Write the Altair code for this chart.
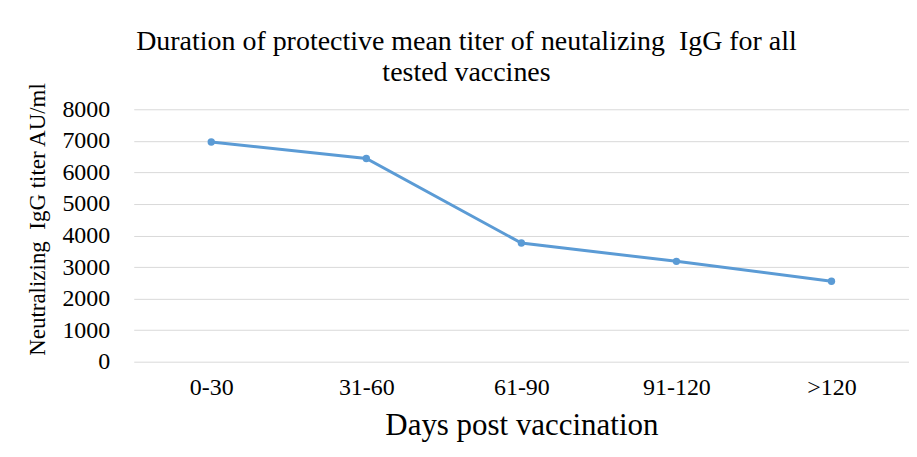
import altair as alt
import pandas as pd

categories = ["0-30", "31-60", "61-90", "91-120", ">120"]
values = [6960, 6440, 3760, 3180, 2550]
y_ticks = [0, 1000, 2000, 3000, 4000, 5000, 6000, 7000, 8000]

df = pd.DataFrame({"days": categories, "titer": values})

FONT = "Liberation Serif"

base = alt.Chart(df).encode(
    x=alt.X("days:N", sort=categories,
            scale=alt.Scale(type="point", padding=0.5),
            axis=alt.Axis(title="Days post vaccination", labelAngle=0, ticks=False,
                          domain=False, labelPadding=14, labelFontSize=24,
                          titleFontSize=31, titlePadding=11, titleFontWeight="normal",
                          grid=False)),
    y=alt.Y("titer:Q", scale=alt.Scale(domain=[0, 8000], nice=False),
            axis=alt.Axis(title="Neutralizing\u00a0 IgG titer AU/ml", values=y_ticks,
                          format="d",
                          ticks=False, domain=False, labelPadding=24, labelFontSize=24,
                          titleFontSize=23, titlePadding=12, titleFontWeight="normal",
                          titleY=110,
                          grid=True, gridColor="#d9d9d9", gridWidth=1)),
)

line = base.mark_line(color="#5B9BD5", strokeWidth=3)
pts = base.mark_point(color="#5B9BD5", filled=True, size=55, opacity=1)

chart = (line + pts).properties(
    width=777,
    height=253,
    title=alt.TitleParams(
        text=["Duration of protective mean titer of neutalizing\u00a0 IgG for all",
              "tested vaccines"],
        fontSize=28, font=FONT, fontWeight="normal", color="#000000",
        lineHeight=31, anchor="middle", dx=-55, dy=20, offset=15),
    autosize=alt.AutoSizeParams(type="none"),
    padding={"left": 126, "top": 101, "right": 0, "bottom": 80},
).configure(font=FONT).configure_axis(
    labelFont=FONT, titleFont=FONT, labelColor="#000000", titleColor="#000000"
).configure_view(stroke=None)

chart.save("out.html", embed_options={"renderer": "svg", "actions": False})
